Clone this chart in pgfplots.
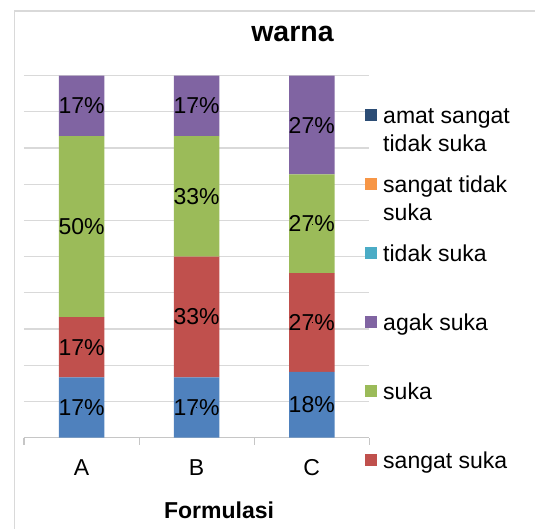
\documentclass[border=0pt]{standalone}
\usepackage{fontspec}
\setmainfont{Liberation Sans}
\usepackage{pgfplots}
\usepackage{pgfplotstable}
\pgfplotsset{compat=1.18}
\definecolor{cblue}{HTML}{4F81BD}
\definecolor{cred}{HTML}{C0504D}
\definecolor{cgreen}{HTML}{9BBB59}
\definecolor{cpurple}{HTML}{8064A2}
\definecolor{ccyan}{HTML}{4BACC6}
\definecolor{corange}{HTML}{F79646}
\definecolor{cnavy}{HTML}{2C4D75}
\definecolor{gridgray}{HTML}{D9D9D9}
\definecolor{axisgray}{HTML}{C6C6C6}
\newcommand\labfont{\fontsize{23}{27.7}\selectfont}
\newcommand\legentry[1]{\vtop to 69pt{#1\vss}}

% x, segment value v (percent), segment centre c, printed label p
\pgfplotstableread{
x v c p
0 16.67 8.33 17
1 16.67 8.33 17
2 18.18 9.09 18
}\tamatsangatsuka
\pgfplotstableread{
x v c p
0 16.67 25.00 17
1 33.33 33.33 33
2 27.27 31.82 27
}\tsangatsuka
\pgfplotstableread{
x v c p
0 50.00 58.33 50
1 33.33 66.67 33
2 27.27 59.09 27
}\tsuka
\pgfplotstableread{
x v c p
0 16.67 91.67 17
1 16.67 91.67 17
2 27.27 86.36 27
}\tagaksuka

\pgfplotsset{
  lab/.style={
    only marks, mark=square*, mark size=0.01pt,
    mark options={draw=none, fill=none},
    nodes near coords={\pgfplotspointmeta\%},
    point meta=explicit symbolic,
    every node near coord/.append style={anchor=center,
      font=\labfont, text=black, inner sep=0pt},
    forget plot,
  },
  sq/.style={draw=none, fill=#1,
    legend image code/.code={\fill[##1] (0pt,2.5pt) rectangle (12pt,14.5pt);}},
  geom/.style={
    at={(24pt,91.3pt)}, anchor=south west,
    width=345.3pt, height=362pt, scale only axis,
    xmin=-0.5, xmax=2.5, ymin=0, ymax=100,
  },
}

\begin{document}
\begin{tikzpicture}
\useasboundingbox (0,0) rectangle (535pt,529pt);
\draw[gridgray, line width=1.5pt] (14.3pt,0pt) -- (14.3pt,518.1pt) -- (535pt,518.1pt);
\node[font=\bfseries\fontsize{28.5}{34}\selectfont] at (292.5pt,495.2pt) {warna};
\begin{axis}[
  geom,
  ybar stacked, bar width=45.5pt,
  xtick={0,1,2}, xticklabels={A,B,C},
  minor xtick={-0.5,0.5,1.5,2.5},
  ytick={0,10,...,100}, yticklabels={},
  ymajorgrids, grid style={draw=gridgray, line width=1.2pt},
  axis x line*=bottom, axis y line*=left,
  y axis line style={draw=none},
  x axis line style={draw=axisgray, line width=1.2pt, -},
  ytick style={draw=none},
  xtick style={draw=none},
  minor x tick style={draw=axisgray, line width=1.2pt},
  tick align=outside, minor tick length=7pt, major tick length=0pt,
  xticklabel style={font=\labfont, anchor=center, yshift=-30pt},
  xlabel={Formulasi},
  xlabel style={font=\bfseries\labfont, at={(axis description cs:0.565,0)}, anchor=center, yshift=-72.8pt},
]
\addplot[sq=cblue] table[x=x, y=v] {\tamatsangatsuka};
\addplot[sq=cred] table[x=x, y=v] {\tsangatsuka};
\addplot[sq=cgreen] table[x=x, y=v] {\tsuka};
\addplot[sq=cpurple] table[x=x, y=v] {\tagaksuka};
\end{axis}
\begin{axis}[
  geom, hide axis,
  legend style={at={(axis description cs:0.9876,0.9221)}, anchor=north west,
    draw=none, fill=none, inner sep=0pt, row sep=0pt, column sep=6pt,
    nodes={inner sep=0pt, text depth=}, cells={anchor=base west}, font=\labfont},
]
\addplot[lab] table[x=x, y=c, meta=p] {\tamatsangatsuka};
\addplot[lab] table[x=x, y=c, meta=p] {\tsangatsuka};
\addplot[lab] table[x=x, y=c, meta=p] {\tsuka};
\addplot[lab] table[x=x, y=c, meta=p] {\tagaksuka};
\addlegendimage{sq=cnavy}
\addlegendentry{\legentry{\hbox{\strut amat sangat}\hbox{\strut tidak suka}}}
\addlegendimage{sq=corange}
\addlegendentry{\legentry{\hbox{\strut sangat tidak}\hbox{\strut suka}}}
\addlegendimage{sq=ccyan}
\addlegendentry{\legentry{\hbox{\strut tidak suka}}}
\addlegendimage{sq=cpurple}
\addlegendentry{\legentry{\hbox{\strut agak suka}}}
\addlegendimage{sq=cgreen}
\addlegendentry{\legentry{\hbox{\strut suka}}}
\addlegendimage{sq=cred}
\addlegendentry{\legentry{\hbox{\strut sangat suka}}}
\end{axis}
\end{tikzpicture}
\end{document}
